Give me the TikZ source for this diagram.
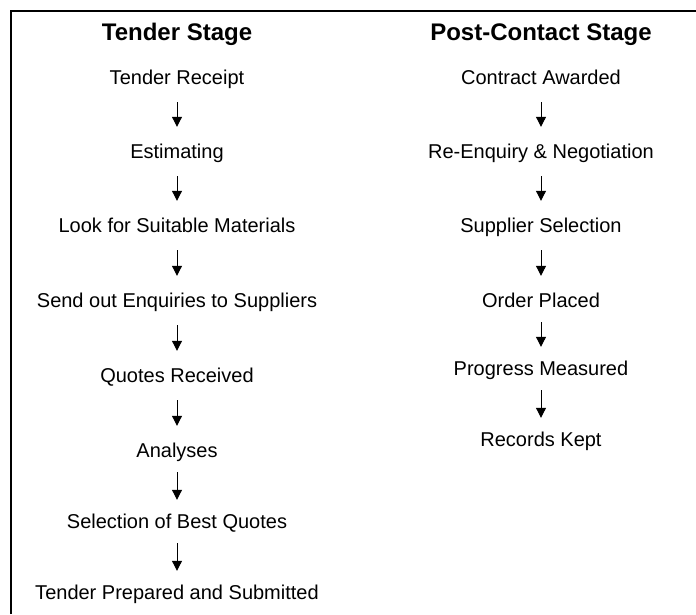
\documentclass[tikz,border=0pt]{standalone}
\usepackage{fontspec}
\setmainfont{Liberation Sans}
\usetikzlibrary{arrows.meta}

\tikzset{
  stage/.style={font=\fontsize{24}{28}\selectfont\bfseries, inner sep=0pt, anchor=base},
  item/.style={font=\fontsize{20}{24}\selectfont, inner sep=0pt, text height=15pt, text depth=4pt, anchor=base},
  flow/.style={-{Triangle[width=10pt,length=10pt]}, line width=1pt, shorten <=14pt, shorten >=16pt},
  tight/.style={flow, shorten <=11pt, shorten >=13pt},
}

\begin{document}
\begin{tikzpicture}[x=1pt, y=-1pt]
\useasboundingbox (0, 0) rectangle (696, 614);
\draw [line width=2pt] (11, 614) -- (11, 10.5) -- (696, 10.5);
% tender stage
\node [stage] (ts) at (177, 40) {Tender Stage};
\node [item] (t1) at (177, 84) {Tender Receipt};
\node [item] (t2) at (177, 158) {Estimating};
\node [item] (t3) at (177, 232) {Look for Suitable Materials};
\node [item] (t4) at (177, 307) {Send out Enquiries to Suppliers};
\node [item] (t5) at (177, 382) {Quotes Received};
\node [item] (t6) at (177, 457) {Analyses};
\node [item] (t7) at (177, 528) {Selection of Best Quotes};
\node [item] (t8) at (177, 599) {Tender Prepared and Submitted};
% post-contact stage
\node [stage] (ps) at (541, 40) {Post-Contact Stage};
\node [item] (p1) at (541, 84) {Contract Awarded};
\node [item] (p2) at (541, 158) {Re-Enquiry \& Negotiation};
\node [item] (p3) at (541, 232) {Supplier Selection};
\node [item] (p4) at (541, 307) {Order Placed};
\node [item] (p5) at (541, 375) {Progress Measured};
\node [item] (p6) at (541, 446) {Records Kept};
\foreach \a/\b in {t1/t2, t2/t3, t3/t4, t4/t5, t5/t6, p1/p2, p2/p3, p3/p4}
  \draw [flow] (\a) -- (\b);
\foreach \a/\b in {t6/t7, t7/t8, p4/p5, p5/p6}
  \draw [tight] (\a) -- (\b);
\end{tikzpicture}
\end{document}
